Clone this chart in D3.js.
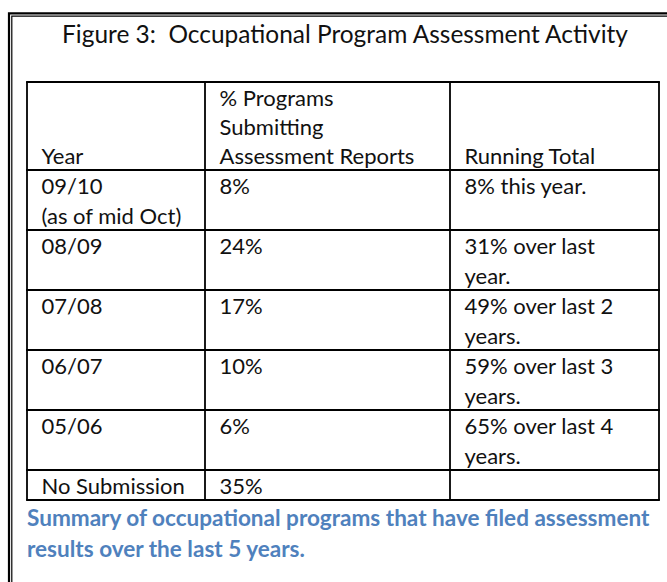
<!DOCTYPE html>
<html>
<head>
<meta charset="utf-8">
<script src="https://cdn.jsdelivr.net/npm/d3@7"></script>
<style>
  html, body { margin: 0; padding: 0; background: #fff; }
  svg { display: block; }
  text { font-family: "Lato", "Open Sans", sans-serif; fill: #111; white-space: pre; }
</style>
</head>
<body>
<div id="chart"></div>
<script>
// Table content, as printed in the figure
const title = "Figure 3:  Occupational Program Assessment Activity";
const headers = [
  ["Year"],
  ["% Programs", "Submitting", "Assessment Reports"],
  ["Running Total"]
];
const years = [
  ["09/10", "(as of mid Oct)"],
  ["08/09"],
  ["07/08"],
  ["06/07"],
  ["05/06"],
  ["No Submission"]
];
const percents = ["8%", "24%", "17%", "10%", "6%", "35%"];
const runningTotals = [
  ["8% this year."],
  ["31% over last", "year."],
  ["49% over last 2", "years."],
  ["59% over last 3", "years."],
  ["65% over last 4", "years."],
  []
];
const caption = [
  "Summary of occupational programs that have filed assessment",
  "results over the last 5 years."
];

const width = 667, height = 582;

const svg = d3.select("#chart").append("svg")
  .attr("width", width)
  .attr("height", height);

svg.append("rect").attr("width", width).attr("height", height).attr("fill", "#fff");

// Outer frame (double line, cut off at right and bottom)
const frame = svg.append("g").attr("stroke", "#000").attr("fill", "none");
frame.append("path").attr("stroke-width", 2.2).attr("d", "M9,582 V13.3 H667");
frame.append("path").attr("stroke-width", 1.2).attr("d", "M11.8,582 V16.2 H667");

// measure helper, to fit font size to the widths in the picture
function fitSize(str, target, weight) {
  const t = svg.append("text").attr("font-size", 100).attr("font-weight", weight || 400).text(str);
  const w = t.node().getComputedTextLength();
  t.remove();
  return 100 * target / w;
}

const bodySize = fitSize("Assessment Reports", 195);
const titleSize = fitSize(title, 566);
const capSize = fitSize(caption[0], 623, 700);

// Title
svg.append("text")
  .attr("x", 345)
  .attr("y", 43)
  .attr("text-anchor", "middle")
  .attr("font-size", titleSize)
  .text(title);

// Table geometry
const colEdges = [27, 205, 450, 659];
const tableTop = 82;
const headerH = 88;
const lineH = 30;
const padX = 14.5;

const rows = years.map((y, i) => ({
  cells: [y, [percents[i]], runningTotals[i]]
}));
rows.forEach(r => { r.lines = d3.max(r.cells, c => c.length); r.h = r.lines * lineH; });

let yPos = tableTop + headerH;
rows.forEach(r => { r.y0 = yPos; yPos += r.h; r.y1 = yPos; });
const tableBottom = yPos;

const x = d3.scaleOrdinal().domain([0, 1, 2]).range(colEdges.slice(0, 3));

const table = svg.append("g");

// Header text (bottom aligned)
headers.forEach((lines, ci) => {
  const n = lines.length;
  table.selectAll(null).data(lines).enter().append("text")
    .attr("x", x(ci) + padX)
    .attr("y", (d, i) => tableTop + headerH - 6 - (n - 1 - i) * 29)
    .attr("font-size", bodySize)
    .text(d => d);
});

// Body text (top aligned)
rows.forEach(r => {
  r.cells.forEach((lines, ci) => {
    table.selectAll(null).data(lines).enter().append("text")
      .attr("x", x(ci) + padX)
      .attr("y", (d, i) => r.y0 + 23.5 + i * lineH)
      .attr("font-size", bodySize)
      .text(d => d);
  });
});

// Grid lines
const grid = table.append("g").attr("stroke", "#000").attr("stroke-width", 1.8);
const hLines = [tableTop, tableTop + headerH].concat(rows.map(r => r.y1));
grid.selectAll("line.h").data(hLines).enter().append("line")
  .attr("x1", colEdges[0] - 0.9).attr("x2", colEdges[3] + 0.9)
  .attr("y1", d => d).attr("y2", d => d);
grid.selectAll("line.v").data(colEdges).enter().append("line")
  .attr("x1", d => d).attr("x2", d => d)
  .attr("y1", tableTop).attr("y2", tableBottom);

// Caption
svg.selectAll("text.cap").data(caption).enter().append("text")
  .attr("class", "cap")
  .attr("x", 27)
  .attr("y", (d, i) => 526 + i * 31)
  .attr("font-size", capSize)
  .attr("font-weight", 700)
  .style("fill", "#4f81bd")
  .text(d => d);
</script>
</body>
</html>
